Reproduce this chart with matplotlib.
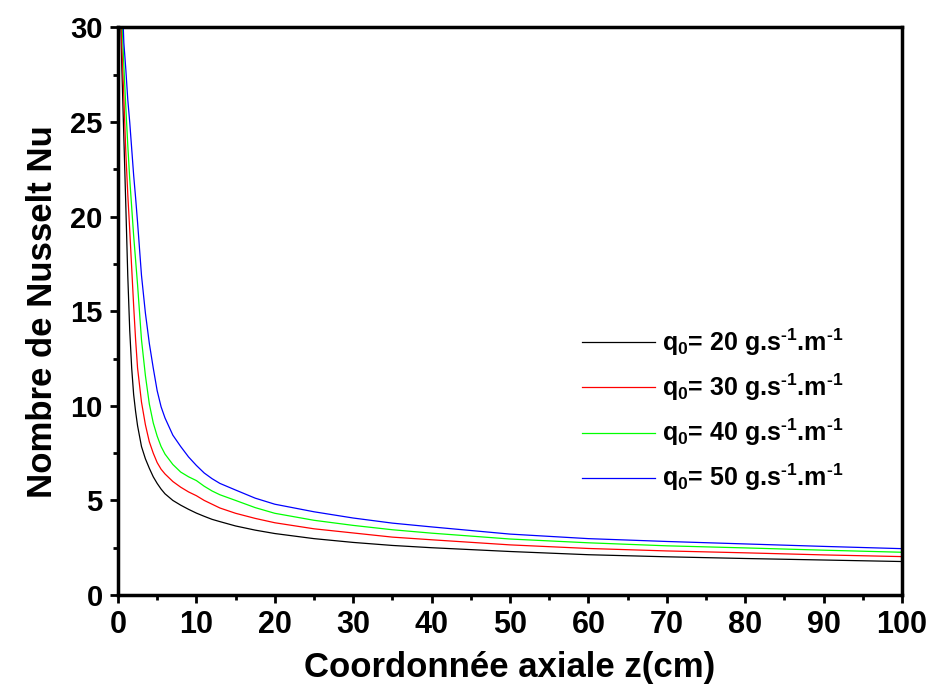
import matplotlib
matplotlib.use("Agg")
import matplotlib.pyplot as plt
from matplotlib.ticker import MultipleLocator

# axial coordinate z (cm), shared by all curves
z_cm = [0.3, 0.5, 0.75, 1, 1.25, 1.5, 1.75, 2, 2.25, 2.5, 3, 3.5, 4, 4.5, 5,
        5.5, 6, 7, 8, 9, 10, 11, 12, 13, 15, 17.5, 20, 25, 30, 35, 40, 50, 60,
        70, 80, 90, 100]

# Nusselt number (values above 30 are clipped by the axis)
nu_q20 = [31.5, 27.8, 24.2, 20.6, 16.9, 14.0, 12.0, 10.6, 9.7, 8.95, 7.85,
          7.2, 6.7, 6.25, 5.9, 5.6, 5.35, 5.0, 4.75, 4.53, 4.33, 4.16, 4.0,
          3.88, 3.65, 3.43, 3.25, 2.98, 2.78, 2.62, 2.5, 2.3, 2.13, 2.02, 1.93,
          1.85, 1.77]
nu_q30 = [33.0, 29.0, 26.3, 23.4, 21.2, 19.3, 17.3, 15.3, 13.5, 12.0, 10.2,
          9.0, 8.1, 7.5, 7.0, 6.65, 6.4, 6.0, 5.7, 5.45, 5.25, 5.0, 4.8, 4.6,
          4.32, 4.05, 3.82, 3.5, 3.28, 3.06, 2.92, 2.65, 2.46, 2.33, 2.23, 2.12,
          2.03]
nu_q40 = [35.0, 30.5, 28.0, 25.8, 23.8, 22.0, 20.5, 19.0, 17.7, 16.4, 13.5,
          11.6, 10.1, 9.1, 8.4, 7.85, 7.45, 6.9, 6.5, 6.25, 6.05, 5.75, 5.5,
          5.3, 5.0, 4.62, 4.32, 3.95, 3.68, 3.45, 3.27, 2.96, 2.76, 2.6, 2.49,
          2.37, 2.26]
nu_q50 = [38.0, 32.0, 29.2, 27.8, 26.2, 25.0, 23.6, 22.2, 21.0, 19.7, 16.9,
          14.9, 13.3, 12.0, 10.8, 9.95, 9.36, 8.45, 7.85, 7.3, 6.85, 6.45, 6.15,
          5.9, 5.55, 5.12, 4.8, 4.4, 4.07, 3.8, 3.6, 3.22, 2.98, 2.83, 2.7,
          2.57, 2.45]

labels = [r"q$_0$= 20 g.s$^{\text{-1}}$.m$^{\text{-1}}$",
          r"q$_0$= 30 g.s$^{\text{-1}}$.m$^{\text{-1}}$",
          r"q$_0$= 40 g.s$^{\text{-1}}$.m$^{\text{-1}}$",
          r"q$_0$= 50 g.s$^{\text{-1}}$.m$^{\text{-1}}$"]
colors = ["black", "red", "#00ff00", "blue"]

plt.rcParams["font.family"] = ["Liberation Sans", "DejaVu Sans"]
plt.rcParams["font.weight"] = "bold"
plt.rcParams["mathtext.fontset"] = "custom"
plt.rcParams["mathtext.rm"] = "Liberation Sans:bold"
plt.rcParams["mathtext.it"] = "Liberation Sans:bold"
plt.rcParams["mathtext.bf"] = "Liberation Sans:bold"
plt.rcParams["mathtext.default"] = "rm"

fig = plt.figure(figsize=(9.31, 6.96), dpi=100)
ax = fig.add_axes([0.1267, 0.1451, 0.8422, 0.8154])

for nu, lab, col in zip([nu_q20, nu_q30, nu_q40, nu_q50], labels, colors):
    ax.plot(z_cm, nu, color=col, linewidth=0.9, label=lab)

ax.set_xlim(0, 100)
ax.set_ylim(0, 30)
ax.xaxis.set_major_locator(MultipleLocator(10))
ax.xaxis.set_minor_locator(MultipleLocator(5))
ax.yaxis.set_major_locator(MultipleLocator(5))
ax.yaxis.set_minor_locator(MultipleLocator(2.5))

for sp in ax.spines.values():
    sp.set_linewidth(2.5)

ax.tick_params(which="both", direction="out", top=False, right=False, width=2)
ax.tick_params(which="major", length=6, pad=5)
ax.tick_params(which="minor", length=3.5)
ax.tick_params(axis="x", labelsize=22)
ax.tick_params(axis="y", labelsize=21)
for t in ax.get_xticklabels() + ax.get_yticklabels():
    t.set_weight("bold")

ax.set_xlabel("Coordonnée axiale z(cm)", fontsize=25, fontweight="bold", labelpad=8)
ax.set_ylabel("Nombre de Nusselt Nu", fontsize=25, fontweight="bold", labelpad=8)

leg = ax.legend(loc="center left", bbox_to_anchor=(0.592, 0.326), frameon=False,
                fontsize=18, handlelength=2.9, handletextpad=0.3,
                labelspacing=0.55, borderpad=0, borderaxespad=0)
for t in leg.get_texts():
    t.set_weight("bold")

fig.savefig("out.png", dpi=100)
